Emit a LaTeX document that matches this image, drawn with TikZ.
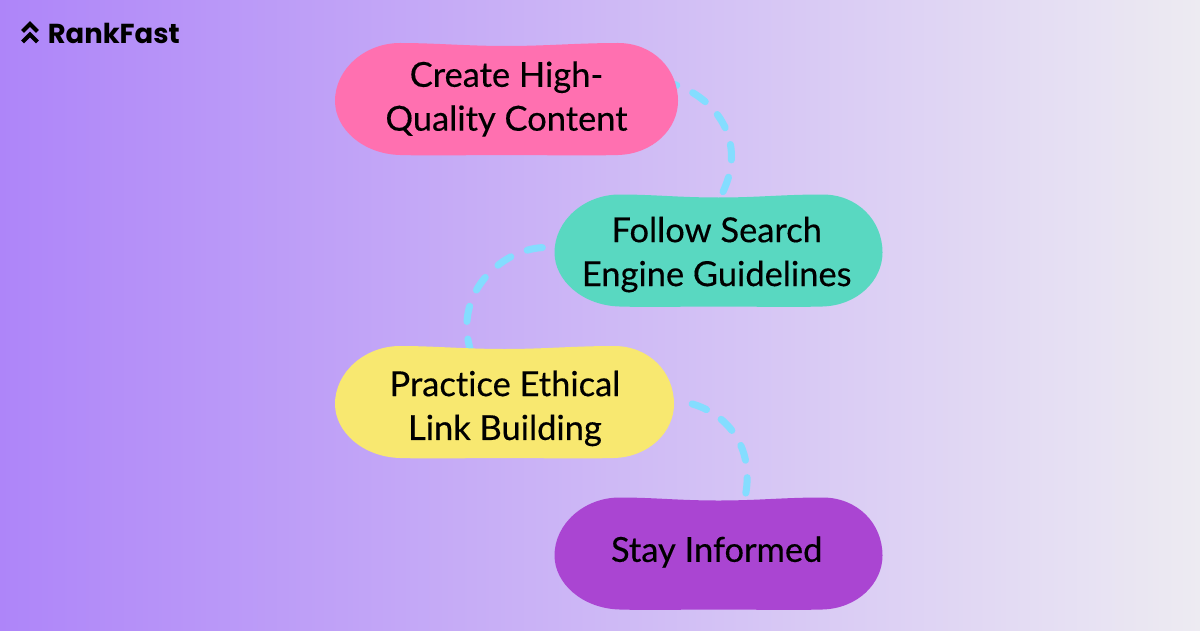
\documentclass[tikz,border=0pt]{standalone}
\usepackage{fontspec}
\setmainfont[FakeBold=0.35,Ligatures=NoCommon]{Lato}
\newfontfamily\logofont{Poppins}

\definecolor{bgleft}{HTML}{AE85F9}
\definecolor{bgright}{HTML}{EDEBF2}
\definecolor{createpink}{HTML}{FF70B0}
\definecolor{followgreen}{HTML}{59D8C1}
\definecolor{practiceyellow}{HTML}{F8E870}
\definecolor{staypurple}{HTML}{AA45D2}
\definecolor{linkblue}{HTML}{84DDFF}

\pgfdeclarelayer{backdrop}
\pgfdeclarelayer{links}
\pgfsetlayers{backdrop,links,main}

\tikzset{
	label/.style={minimum height=2.8cm,align=center,inner sep=0pt,font=\fontsize{24.5}{31.2}\selectfont},
	linkline/.style={linkblue,line width=5pt,line cap=round,dash pattern=on 11pt off 12.5pt},
	chevron/.style={line width=3pt,miter limit=10}
}

% #1 name, #2 colour, #3 x, #4 y, #5 half width, #6 text shift, #7 text
\newcommand{\blob}[7]{
	\fill[#2,shift={(#3,#4)}] (-#5,2) .. controls (-#5,-30) and (-#5+30,-56) .. (-#5+65,-56)
		.. controls (-#5+100,-56) and (-40,-53) .. (0,-53)
		.. controls (40,-53) and (#5-100,-56) .. (#5-60,-56)
		.. controls (#5-25,-56) and (#5,-30) .. (#5,2)
		.. controls (#5,30) and (#5-25,55) .. (#5-60,56)
		.. controls (#5-100,57) and (40,56) .. (0,56)
		.. controls (-40,56) and (-#5+100,57) .. (-#5+65,56)
		.. controls (-#5+28,55) and (-#5,30) .. (-#5,2) -- cycle;
	\node[label,minimum width=#5*0.05cm,#6] (#1) at (#3,#4) {#7};
}

\begin{document}
\begin{tikzpicture}[x=.025cm,y=-.025cm]
	\begin{pgfonlayer}{backdrop}
	\shade[left color=bgleft,right color=bgright] (0,0) rectangle (1200,630);
	\end{pgfonlayer}

	% logo
	\draw[chevron] (22.5,31.5) -- (30,24) -- (37.5,31.5);
	\draw[chevron] (22.5,42) -- (30,34.5) -- (37.5,42);
	\node[anchor=west,inner sep=0pt,font=\logofont\bfseries\fontsize{19.5}{21}\selectfont] (logo) at (47.5,33) {RankFast};

	\blob{create}{createpink}{506.5}{99}{171.5}{yshift=0pt}{Create High-\\Quality Content}
	\blob{follow}{followgreen}{718.5}{250.5}{164}{xshift=-1.3pt,yshift=-2.9pt}{Follow Search\\Engine Guidelines}
	\blob{practice}{practiceyellow}{504.5}{402}{169.5}{xshift=.3pt,yshift=-4.6pt}{Practice Ethical\\Link Building}
	\blob{stay}{staypurple}{718.5}{553.5}{164}{xshift=-1.3pt,yshift=1pt}{Stay Informed}

	\begin{pgfonlayer}{links}
	\draw[linkline,dash phase=7.7pt] (create.5) ++(-6,0) .. controls (712,95) and (752,140) .. (follow.87);
	\draw[linkline] (follow.west) ++(-10,-7) .. controls (500,250) and (452,295) .. (practice.121);
	\draw[linkline,dash phase=21pt] (practice.east) ++(14,-5.5) .. controls (725,412) and (755,445) .. (stay.63);
	\end{pgfonlayer}
\end{tikzpicture}
\end{document}
